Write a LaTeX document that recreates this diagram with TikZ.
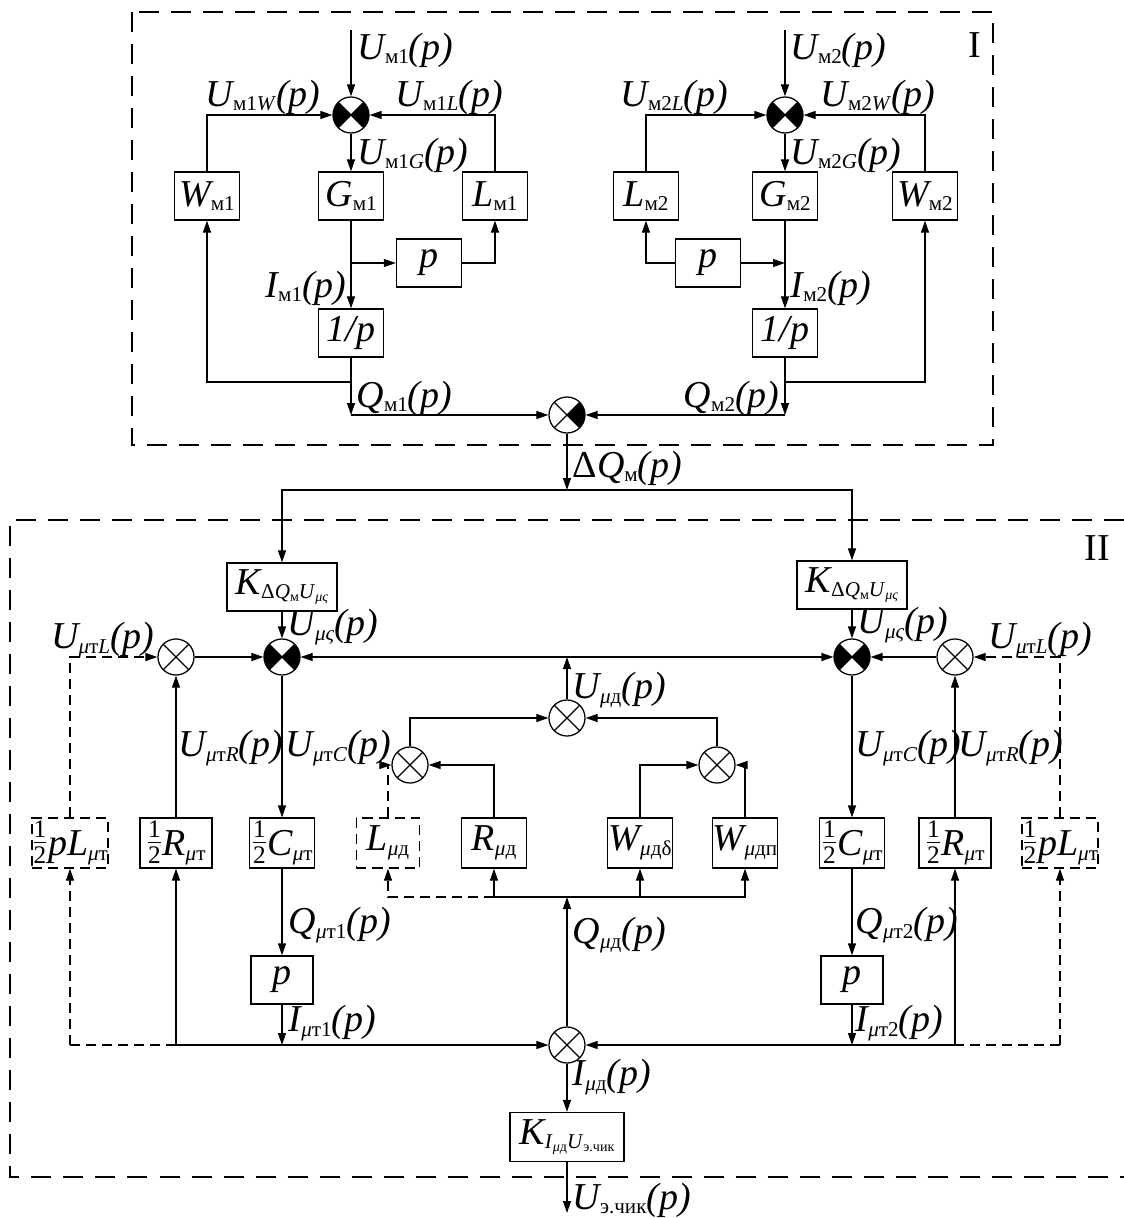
\documentclass[tikz,border=0pt]{standalone}
\usepackage{fontspec}
\setmainfont{Liberation Serif}
\usepackage{tikz}
\usetikzlibrary{arrows.meta,positioning}

\newcommand\sbs[1]{\raisebox{-0.12em}{\fontsize{15}{15}\selectfont\upshape #1}}
\newcommand\ssbs[1]{\raisebox{-0.15em}{\fontsize{10}{10}\selectfont\upshape #1}}
\newcommand\half{\raisebox{0.12em}{${\hbox{\fontsize{18}{18}\selectfont\upshape 1}\above 0.5pt\hbox{\fontsize{18}{18}\selectfont\upshape 2}}$}}

\tikzset{
  blk/.style={draw,fill=white,minimum width=1.625cm,minimum height=1.2cm,inner sep=0pt},
  dblk/.style={blk,dsh},
  dsh/.style={dash pattern=on 0.25cm off 0.15cm},
  frame/.style={dash pattern=on 0.5cm off 0.3cm},
  lbl/.style={anchor=west,inner sep=0pt},
  sumj/.style 2 args={circle,draw,fill=white,minimum size=0.9cm,inner sep=0pt,
    path picture={
      \fill[#1] (path picture bounding box.center) -- (path picture bounding box.north west)
        -- (path picture bounding box.south west) -- cycle;
      \fill[#2] (path picture bounding box.center) -- (path picture bounding box.north east)
        -- (path picture bounding box.south east) -- cycle;
      \draw (path picture bounding box.north west) -- (path picture bounding box.south east)
        (path picture bounding box.north east) -- (path picture bounding box.south west);}},
}

\begin{document}
\begin{tikzpicture}[x=0.025cm,y=-0.025cm,line width=0.9pt,
  >={Triangle[length=0.3cm,width=0.2cm]},
  every node/.style={font=\fontsize{27}{30}\selectfont\itshape}]
  \useasboundingbox (0,0) rectangle (1124,1218);

  % frames
  \draw[frame] (132,12) rectangle (993,445);
  \draw[frame] (1124,520) -- (10,520) -- (10,1177) -- (1124,1177);
  \node (nI) at (975,45) {\upshape I};
  \node (nII) at (1097,548) {\upshape II};

  % motor 1
  \node[sumj={black}{black}] (S1) at (351,115) {};
  \node[blk] (Wm1) at (207,196) {W\sbs{м1}};
  \node[blk] (Gm1) at (351,196) {G\sbs{м1}};
  \node[blk] (Lm1) at (495,196) {L\sbs{м1}};
  \node[blk] (pm1) at (429,263) {p};
  \node[blk] (ip1) at (351,333) {1/p};
  \coordinate (in1) at (351,30);
  \coordinate (b1) at (351,263);
  \coordinate (q1) at (351,382);
  \coordinate (c1) at (351,415);
  \draw[->] (in1) -- (S1);
  \draw[->] (S1) -- (Gm1);
  \draw[->] (Gm1) -- (ip1);
  \draw[->] (b1) -- (pm1);
  \draw[->] (pm1.east) -| (Lm1.south);
  \draw[->] (Lm1.north) |- (S1);
  \draw[->] (Wm1.north) |- (S1);
  \draw[->] (q1) -| (Wm1.south);
  \draw[->] (ip1) -- (c1);

  % motor 2
  \node[sumj={black}{black}] (S2) at (785,115) {};
  \node[blk] (Lm2) at (646,196) {L\sbs{м2}};
  \node[blk] (Gm2) at (785,196) {G\sbs{м2}};
  \node[blk] (Wm2) at (925,196) {W\sbs{м2}};
  \node[blk] (pm2) at (708,263) {p};
  \node[blk] (ip2) at (785,333) {1/p};
  \coordinate (in2) at (785,30);
  \coordinate (b2) at (785,263);
  \coordinate (q2) at (785,382);
  \coordinate (c2) at (785,415);
  \draw[->] (in2) -- (S2);
  \draw[->] (S2) -- (Gm2);
  \draw[->] (Gm2) -- (ip2);
  \draw[->] (pm2.east) -- (b2);
  \draw[->] (pm2.west) -| (Lm2.south);
  \draw[->] (Lm2.north) |- (S2);
  \draw[->] (Wm2.north) |- (S2);
  \draw[->] (q2) -| (Wm2.south);
  \draw[->] (ip2) -- (c2);

  % difference of charges
  \node[sumj={white}{black}] (SQ) at (567,415) {};
  \coordinate (dq) at (567,490);
  \draw[->] (c1) -- (SQ);
  \draw[->] (c2) -- (SQ);
  \draw[->] (SQ) -- (dq);

  % labels, part I
  \node[lbl] at (357,50) {U\sbs{м1}(p)};
  \node[lbl] at (205,97) {U\sbs{м1\textit{W}}(p)};
  \node[lbl] at (395,97) {U\sbs{м1\textit{L}}(p)};
  \node[lbl] at (357,155) {U\sbs{м1\textit{G}}(p)};
  \node[lbl,anchor=east] at (347,288) {I\sbs{м1}(p)};
  \node[lbl] at (356,398) {Q\sbs{м1}(p)};
  \node[lbl] at (790,50) {U\sbs{м2}(p)};
  \node[lbl] at (620,97) {U\sbs{м2\textit{L}}(p)};
  \node[lbl] at (820,97) {U\sbs{м2\textit{W}}(p)};
  \node[lbl] at (790,155) {U\sbs{м2\textit{G}}(p)};
  \node[lbl] at (790,288) {I\sbs{м2}(p)};
  \node[lbl,anchor=east] at (780,398) {Q\sbs{м2}(p)};
  \node[lbl] at (572,468) {{\upshape Δ}Q\sbs{м}(p)};

  % part II, upper row
  \node[blk,minimum width=2.75cm] (KL) at (282,587)
    {K\sbs{Δ\textit{Q}\ssbs{м}\textit{U}\ssbs{\textit{μς}}}};
  \node[blk,minimum width=2.75cm] (KR) at (852,585)
    {K\sbs{Δ\textit{Q}\ssbs{м}\textit{U}\ssbs{\textit{μς}}}};
  \draw[->] (dq) -| (KL);
  \draw[->] (dq) -| (KR);
  \node[sumj={white}{white}] (SL) at (176,657) {};
  \node[sumj={black}{black}] (SB1) at (282,657) {};
  \node[sumj={black}{black}] (SB2) at (852,657) {};
  \node[sumj={white}{white}] (SR) at (955,657) {};
  \draw[->] (KL) -- (SB1);
  \draw[->] (KR) -- (SB2);
  \draw[->] (SL) -- (SB1);
  \draw[->] (SR) -- (SB2);
  \draw[<->] (SB1) -- (SB2);

  % dielectric branch
  \node[sumj={white}{white}] (SD) at (567,718) {};
  \node[sumj={white}{white}] (SDl) at (410,765) {};
  \node[sumj={white}{white}] (SDr) at (717,765) {};
  \coordinate (md) at (567,657);
  \draw[->] (SD) -- (md);
  \draw[->] (SDl) |- (SD);
  \draw[->] (SDr) |- (SD);
  \node[dblk,minimum width=1.575cm,minimum height=1.25cm] (Ld) at (388,843) {L\sbs{\textit{μ}д}};
  \node[blk,minimum width=1.625cm,minimum height=1.25cm] (Rd) at (494,843) {R\sbs{\textit{μ}д}};
  \node[blk,minimum width=1.625cm,minimum height=1.25cm] (Wdd) at (640,843) {W\sbs{\textit{μ}дδ}};
  \node[blk,minimum width=1.625cm,minimum height=1.25cm] (Wdp) at (745,843) {W\sbs{\textit{μ}дп}};
  \draw[->,dsh] (Ld) |- (SDl);
  \draw[->] (Rd) |- (SDl);
  \draw[->] (Wdd) |- (SDr);
  \draw[->] (Wdp) |- (SDr);

  % lower row
  \node[sumj={white}{white}] (SE) at (567,1045) {};
  \coordinate (qd) at (567,897);
  \draw[->] (SE) -- (qd);
  \draw[->] (qd) -| (Rd.south);
  \draw[->] (qd) -| (Wdd.south);
  \draw[->] (qd) -| (Wdp.south);
  \draw[->,dsh] (Rd.south |- qd) -| (Ld.south);

  % left capacitance column
  \node[dblk,minimum width=1.85cm,minimum height=1.25cm] (pLl) at (70,843) {\half pL\sbs{\textit{μ}т}};
  \node[blk,minimum width=1.8cm,minimum height=1.25cm] (Rl) at (176,843) {\half R\sbs{\textit{μ}т}};
  \node[blk,minimum height=1.25cm] (Cl) at (282,843) {\half C\sbs{\textit{μ}т}};
  \node[blk,minimum width=1.55cm] (pl) at (282,980) {p};
  \coordinate (il) at (282,1045);
  \coordinate (bl) at (70,1045);
  \draw[->] (SB1) -- (Cl);
  \draw[->] (Cl) -- (pl);
  \draw[->] (pl) -- (il);
  \draw[->] (Rl) -- (SL);
  \draw[->] (bl -| Rl) -- (SE);
  \draw[->] (bl -| Rl) -- (Rl);
  \draw[dsh] (bl) -- (bl -| Rl);
  \draw[->,dsh] (bl) -- (pLl);
  \draw[->,dsh] (pLl) |- (SL);

  % right capacitance column
  \node[dblk,minimum width=1.85cm,minimum height=1.25cm] (pLr) at (1060,843) {\half pL\sbs{\textit{μ}т}};
  \node[blk,minimum width=1.8cm,minimum height=1.25cm] (Rr) at (955,843) {\half R\sbs{\textit{μ}т}};
  \node[blk,minimum height=1.25cm] (Cr) at (852,843) {\half C\sbs{\textit{μ}т}};
  \node[blk,minimum width=1.55cm] (pr) at (852,980) {p};
  \coordinate (ir) at (852,1045);
  \coordinate (br) at (1060,1045);
  \draw[->] (SB2) -- (Cr);
  \draw[->] (Cr) -- (pr);
  \draw[->] (pr) -- (ir);
  \draw[->] (Rr) -- (SR);
  \draw[->] (br -| Rr) -- (SE);
  \draw[->] (br -| Rr) -- (Rr);
  \draw[dsh] (br) -- (br -| Rr);
  \draw[->,dsh] (br) -- (pLr);
  \draw[->,dsh] (pLr) |- (SR);

  % output
  \node[blk,minimum width=2.85cm,minimum height=1.225cm] (KI) at (567,1137)
    {K\sbs{\textit{I}\ssbs{\textit{μ}д}\textit{U}\ssbs{э.чик}}};
  \coordinate (out) at (567,1213);
  \draw[->] (SE) -- (KI);
  \draw[->] (KI) -- (out);

  % labels, part II
  \node[lbl] at (287,627) {U\sbs{\textit{μς}}(p)};
  \node[lbl] at (857,625) {U\sbs{\textit{μς}}(p)};
  \node[lbl,anchor=east] at (155,640) {U\sbs{\textit{μ}т\textit{L}}(p)};
  \node[lbl] at (988,640) {U\sbs{\textit{μ}т\textit{L}}(p)};
  \node[lbl] at (178,748) {U\sbs{\textit{μ}т\textit{R}}(p)};
  \node[lbl] at (285,748) {U\sbs{\textit{μ}т\textit{C}}(p)};
  \node[lbl] at (855,748) {U\sbs{\textit{μ}т\textit{C}}(p)};
  \node[lbl] at (958,748) {U\sbs{\textit{μ}т\textit{R}}(p)};
  \node[lbl] at (572,690) {U\sbs{\textit{μ}д}(p)};
  \node[lbl] at (288,925) {Q\sbs{\textit{μ}т1}(p)};
  \node[lbl] at (572,935) {Q\sbs{\textit{μ}д}(p)};
  \node[lbl] at (855,925) {Q\sbs{\textit{μ}т2}(p)};
  \node[lbl] at (288,1023) {I\sbs{\textit{μ}т1}(p)};
  \node[lbl] at (855,1023) {I\sbs{\textit{μ}т2}(p)};
  \node[lbl] at (572,1077) {I\sbs{\textit{μ}д}(p)};
  \node[lbl] at (572,1200) {U\sbs{э.чик}(p)};
\end{tikzpicture}
\end{document}
